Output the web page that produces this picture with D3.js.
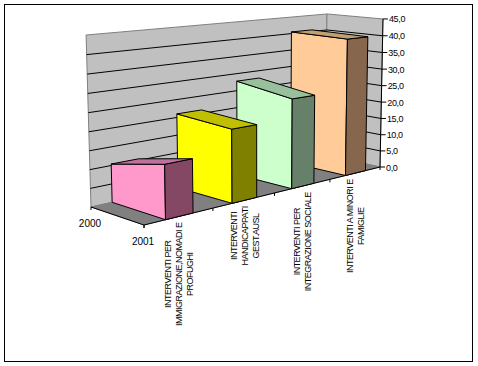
<!DOCTYPE html>
<html>
<head>
<meta charset="utf-8">
<script src="https://cdn.jsdelivr.net/npm/d3@7"></script>
<style>
  body { margin: 0; background: #fff; }
  text { font-family: "Liberation Sans", Arial, sans-serif; fill: #000; }
</style>
</head>
<body>
<div id="chart"></div>
<script>
// datos
const categories = [
  ['INTERVENTI PER', 'IMMIGRAZIONE,NOMADI E', 'PROFUGHI'],
  ['INTERVENTI', 'HANDICAPPATI', 'GEST.AUSL'],
  ['INTERVENTI PER', 'INTEGRAZIONE SOCIALE'],
  ['INTERVENTI A MINORI E', 'FAMIGLIE']
];
const years = ['2001', '2000'];
const values2000 = [10.4, 21.0, 27.8, 40.5];
const values2001 = [14.2, 20.0, 25.4, 40.2];
const valueTicks = [0, 5, 10, 15, 20, 25, 30, 35, 40, 45];

// colores: cara grande, lateral, arriba
const faceColors = ['#ff99cc', '#ffff00', '#ccffcc', '#ffcc99'];
const sideColors = ['#844864', '#808000', '#66806a', '#86664c'];
const topColors = ['#c0709c', '#c0c000', '#99c09c', '#c0a070'];

const width = 478;
const height = 366;

const svg = d3.select('#chart')
  .append('svg')
  .attr('width', width)
  .attr('height', height)
  .style('display', 'block');

// escalas en el espacio de la caja (0 a 1)
const x = d3.scaleBand()
  .domain(d3.range(categories.length))
  .range([0, 1])
  .paddingInner(0.6)
  .paddingOuter(0.3);
const y = d3.scaleLinear().domain([0, 45]).range([0, 1]);
const z = d3.scalePoint().domain(years).range([0, 1]);

// perspectiva de la caja 3D
const project = (u, v, w) => {
  const d = 1 + 0.237 * u - 0.03 * v + 0.062 * w;
  return [
    (144 + 326.06 * u - 7.8 * v - 47.36 * w) / d,
    (225 - 18.42 * u - 183.7 * v - 5.17 * w) / d
  ];
};

const poly = (pts, fill, stroke) => svg.append('polygon')
  .attr('points', pts.map(p => project(...p).join(',')).join(' '))
  .attr('fill', fill)
  .attr('stroke', stroke)
  .attr('stroke-width', 1);

const line = (a, b, stroke) => svg.append('line')
  .attr('x1', a[0]).attr('y1', a[1])
  .attr('x2', b[0]).attr('y2', b[1])
  .attr('stroke', stroke)
  .attr('stroke-width', 1);

// paredes y suelo
poly([[0, 0, 1], [1, 0, 1], [1, 1, 1], [0, 1, 1]], '#c0c0c0', '#808080');
poly([[1, 0, 1], [1, 0, 0], [1, 1, 0], [1, 1, 1]], '#c0c0c0', '#808080');
poly([[0, 0, 0], [1, 0, 0], [1, 0, 1], [0, 0, 1]], '#808080', '#808080');

// rejilla
valueTicks.slice(1, -1).forEach(t => {
  const v = y(t);
  line(project(0, v, 1), project(1, v, 1), '#000');
  line(project(1, v, 1), project(1, v, 0), '#000');
});

// eje de valores
const format = d3.formatLocale({ decimal: ',', thousands: '.', grouping: [3], currency: ['', ''] }).format('.1f');
line(project(1, 0, 0), project(1, 1, 0), '#000');
valueTicks.forEach(t => {
  const p = project(1, y(t), 0);
  line(p, [p[0] + 5, p[1]], '#000');
  svg.append('text')
    .attr('x', p[0] + 6)
    .attr('y', p[1] + 3.5)
    .attr('font-size', 9)
    .attr('letter-spacing', '-0.35px')
    .text(format(t));
});

// ejes del suelo
line(project(0, 0, 0), project(1, 0, 0), '#000');
line(project(0, 0, 0), project(0, 0, 1), '#000');
d3.range(categories.length + 1).forEach(i => {
  const p = project(i / categories.length, 0, 0);
  line(p, [p[0], p[1] + 3], '#000');
});
years.forEach(year => {
  const p = project(0, 0, z(year));
  line(p, [p[0], p[1] + 3], '#000');
  svg.append('text')
    .attr('x', p[0] - 1)
    .attr('y', p[1] + 20)
    .attr('text-anchor', 'middle')
    .attr('font-size', 10)
    .text(year);
});

// barras, de la más lejana a la más cercana
d3.range(categories.length).reverse().forEach(i => {
  const u0 = x(i);
  const u1 = x(i) + x.bandwidth();
  const back = y(values2000[i]);
  const front = y(values2001[i]);
  poly([[u0, 0, 1], [u0, 0, 0], [u0, front, 0], [u0, back, 1]], faceColors[i], '#000');
  poly([[u0, 0, 0], [u1, 0, 0], [u1, front, 0], [u0, front, 0]], sideColors[i], '#000');
  poly([[u0, back, 1], [u0, front, 0], [u1, front, 0], [u1, back, 1]], topColors[i], '#000');
});

// etiquetas de categorías, giradas
categories.forEach((lines, i) => {
  const p = project(x(i) + x.bandwidth() / 2, 0, 0);
  const label = svg.append('text')
    .attr('text-anchor', 'middle')
    .attr('font-size', 9)
    .attr('letter-spacing', '-0.5px');
  lines.forEach((d, j) => {
    label.append('tspan')
      .attr('x', 0)
      .attr('y', (j - (lines.length - 1) / 2) * 11 + 3)
      .text(d);
  });
  const w = label.node().getBBox().width;
  label.attr('transform', `translate(${p[0]},${p[1] + 6 + w / 2}) rotate(-90)`);
});

// marco
svg.append('rect')
  .attr('x', 4.5)
  .attr('y', 4.5)
  .attr('width', 468)
  .attr('height', 357)
  .attr('fill', 'none')
  .attr('stroke', '#000');
</script>
</body>
</html>
